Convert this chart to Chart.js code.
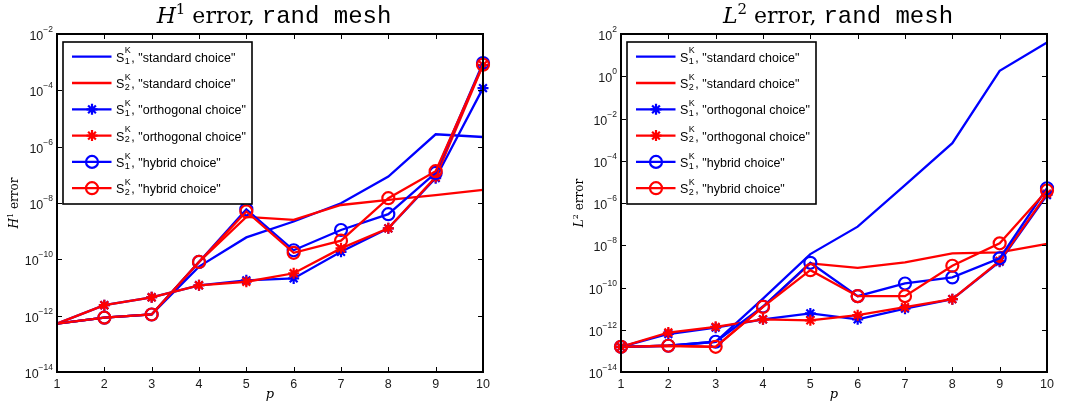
<!DOCTYPE html>
<html><head><meta charset="utf-8">
<script src="https://cdn.jsdelivr.net/npm/chart.js@4/dist/chart.umd.min.js"></script>
<style>
html,body{margin:0;padding:0;background:#fff;width:1065px;height:410px;overflow:hidden}
canvas{position:absolute;top:0}
#c1{left:0}
#c2{left:532px}
</style></head><body>
<canvas id="c1" width="532" height="410"></canvas>
<canvas id="c2" width="533" height="410"></canvas>
<script>
// ---------- data ----------
const pValues = [1, 2, 3, 4, 5, 6, 7, 8, 9, 10];
const xTickLabels = ['1', '2', '3', '4', '5', '6', '7', '8', '9', '10'];
const h1TickExponents = [-14, -12, -10, -8, -6, -4, -2];
const l2TickExponents = [-14, -12, -10, -8, -6, -4, -2, 0, 2];
const legendIndices = ['1', '2', '1', '2', '1', '2'];
const legendLabels = ['"standard choice"', '"standard choice"', '"orthogonal choice"', '"orthogonal choice"', '"hybrid choice"', '"hybrid choice"'];

// H1 error
const h1S1Standard   = [5.2e-13, 8.5e-13, 1.1e-12, 5.5e-11, 6.0e-10, 2.2e-9, 9.8e-9, 8.7e-8, 2.75e-6, 2.2e-6];
const h1S2Standard   = [5.2e-13, 8.5e-13, 1.1e-12, 8.1e-11, 3.2e-9, 2.5e-9, 8.5e-9, 1.3e-8, 1.9e-8, 2.9e-8];
const h1S1Orthogonal = [5.2e-13, 2.35e-12, 4.5e-12, 1.2e-11, 1.8e-11, 2.1e-11, 1.85e-10, 1.26e-9, 7.6e-8, 1.2e-4];
const h1S2Orthogonal = [5.2e-13, 2.35e-12, 4.5e-12, 1.2e-11, 1.6e-11, 3.2e-11, 2.45e-10, 1.26e-9, 8.3e-8, 7.9e-4];
const h1S1Hybrid     = [5.2e-13, 8.5e-13, 1.1e-12, 8.1e-11, 6.0e-9, 2.1e-10, 1.1e-9, 4.0e-9, 1.17e-7, 9.3e-4];
const h1S2Hybrid     = [5.2e-13, 8.5e-13, 1.1e-12, 8.1e-11, 5.0e-9, 1.7e-10, 4.6e-10, 1.48e-8, 1.35e-7, 8.1e-4];

// L2 error
const l2S1Standard   = [1.55e-13, 1.75e-13, 2.7e-13, 3.0e-11, 3.8e-9, 7.6e-8, 7.1e-6, 6.8e-4, 1.8, 40];
const l2S2Standard   = [1.55e-13, 1.75e-13, 1.55e-13, 1.2e-11, 1.38e-9, 8.5e-10, 1.55e-9, 4.1e-9, 4.6e-9, 1.15e-8];
const l2S1Orthogonal = [1.55e-13, 6.3e-13, 1.26e-12, 3.1e-12, 5.9e-12, 3.1e-12, 1.0e-11, 2.8e-11, 1.66e-9, 2.4e-6];
const l2S2Orthogonal = [1.55e-13, 7.4e-13, 1.38e-12, 3.1e-12, 2.8e-12, 4.9e-12, 1.17e-11, 2.8e-11, 1.8e-9, 2.8e-6];
const l2S1Hybrid     = [1.55e-13, 1.75e-13, 2.7e-13, 1.26e-11, 1.48e-9, 3.9e-11, 1.55e-10, 3.0e-10, 2.4e-9, 5.0e-6];
const l2S2Hybrid     = [1.55e-13, 1.75e-13, 1.55e-13, 1.2e-11, 6.6e-10, 3.9e-11, 3.9e-11, 1.07e-9, 1.23e-8, 3.9e-6];

// ---------- styles ----------
const BLUE = '#0000ff', RED = '#ff0000';
const seriesStyles = [
  {color: BLUE, marker: null},
  {color: RED, marker: null},
  {color: BLUE, marker: 'star'},
  {color: RED, marker: 'star'},
  {color: BLUE, marker: 'circle'},
  {color: RED, marker: 'circle'}
];
const SERIF = '"DejaVu Serif", "Liberation Serif", serif';
const SANS = '"Liberation Sans", Arial, sans-serif';
const MONO = '"Liberation Mono", "DejaVu Sans Mono", monospace';
const LINE_W = 2.3;

function buildDatasets(seriesList, hideFirstMarker) {
  return seriesList.map((arr, i) => {
    const st = seriesStyles[i];
    const r = st.marker === 'circle' ? 6 : (st.marker === 'star' ? 5.5 : 0);
    return {
      data: pValues.map((p, k) => ({x: p, y: arr[k]})),
      borderColor: st.color,
      backgroundColor: 'rgba(0,0,0,0)',
      borderWidth: LINE_W,
      tension: 0,
      fill: false,
      pointStyle: st.marker || 'circle',
      pointRadius: ctx => (hideFirstMarker && ctx.dataIndex === 0) ? 0 : r,
      pointBorderWidth: 2.2,
      pointBorderColor: st.color,
      pointBackgroundColor: 'rgba(0,0,0,0)',
      order: 6 - i,
      clip: false
    };
  });
}

function drawRich(ctx, parts, x, y, align) {
  let total = 0;
  parts.forEach(p => { ctx.font = p.font; p.w = ctx.measureText(p.text).width; total += p.w; });
  let cx = align === 'center' ? x - total / 2 : (align === 'right' ? x - total : x);
  ctx.textAlign = 'left';
  parts.forEach(p => { ctx.font = p.font; ctx.fillText(p.text, cx, y + (p.dy || 0)); cx += p.w; });
}

function drawMarker(ctx, kind, x, y, color) {
  ctx.save();
  ctx.strokeStyle = color; ctx.lineWidth = 2.2;
  ctx.beginPath();
  if (kind === 'circle') {
    ctx.arc(x, y, 6, 0, Math.PI * 2);
  } else if (kind === 'star') {
    const r = 5.5, d = r * Math.SQRT1_2;
    ctx.moveTo(x - r, y); ctx.lineTo(x + r, y);
    ctx.moveTo(x, y - r); ctx.lineTo(x, y + r);
    ctx.moveTo(x - d, y - d); ctx.lineTo(x + d, y + d);
    ctx.moveTo(x - d, y + d); ctx.lineTo(x + d, y - d);
  }
  ctx.stroke();
  ctx.restore();
}

function decorPlugin(cfg) {
  return {
    id: 'decor',
    afterDraw(chart) {
      const ctx = chart.ctx, a = chart.chartArea;
      const xs = chart.scales.x, ys = chart.scales.y;
      ctx.save();
      // frame
      ctx.strokeStyle = '#000'; ctx.lineWidth = 2;
      ctx.strokeRect(a.left, a.top, a.right - a.left, a.bottom - a.top);
      // ticks
      ctx.lineWidth = 1;
      ctx.beginPath();
      pValues.forEach(p => {
        const x = Math.round(xs.getPixelForValue(p)) + 0.5;
        ctx.moveTo(x, a.bottom); ctx.lineTo(x, a.bottom - 5);
        ctx.moveTo(x, a.top); ctx.lineTo(x, a.top + 5);
      });
      cfg.tickExps.forEach(e => {
        const y = Math.round(ys.getPixelForValue(Math.pow(10, e))) + 0.5;
        ctx.moveTo(a.left, y); ctx.lineTo(a.left + 5, y);
        ctx.moveTo(a.right, y); ctx.lineTo(a.right - 5, y);
      });
      ctx.stroke();
      // x tick labels
      ctx.fillStyle = '#1a1a1a';
      ctx.font = '12.5px ' + SANS;
      ctx.textAlign = 'center'; ctx.textBaseline = 'alphabetic';
      pValues.forEach((p, i) => ctx.fillText(xTickLabels[i], xs.getPixelForValue(p), a.bottom + 16));
      // y tick labels
      cfg.tickExps.forEach(e => {
        const y = ys.getPixelForValue(Math.pow(10, e));
        const exp = e < 0 ? '\u2212' + Math.abs(e) : String(e);
        drawRich(ctx, [
          {text: '10', font: '12.5px ' + SANS, dy: 6},
          {text: exp, font: '8.5px ' + SANS, dy: -2}
        ], a.left - 4, y, 'right');
      });
      // x axis title
      ctx.fillStyle = '#000';
      ctx.font = 'italic 13px ' + SERIF;
      ctx.textAlign = 'center';
      ctx.fillText('p', (a.left + a.right) / 2, 398);
      // y axis title
      ctx.save();
      ctx.translate(cfg.yTitleX, (a.top + a.bottom) / 2);
      ctx.rotate(-Math.PI / 2);
      drawRich(ctx, [
        {text: cfg.yLetter, font: 'italic 12px ' + SERIF, dy: 0},
        {text: cfg.yPow, font: '8px ' + SERIF, dy: -5},
        {text: ' error', font: '12px ' + SERIF, dy: 0}
      ], 0, 4, 'center');
      ctx.restore();
      // title
      drawRich(ctx, [
        {text: cfg.yLetter, font: 'italic 22px ' + SERIF, dy: 0},
        {text: cfg.yPow, font: '15px ' + SERIF, dy: -9},
        {text: ' error, ', font: '22px ' + SERIF, dy: 0},
        {text: 'rand mesh', font: '24px ' + MONO, dy: 0}
      ], (a.left + a.right) / 2 + 4, 23, 'center');
      // legend
      const L = a.left + 6, T = 42, W = 189, H = 162;
      ctx.fillStyle = '#fff';
      ctx.fillRect(L, T, W, H);
      ctx.strokeStyle = '#000'; ctx.lineWidth = 1.6;
      ctx.strokeRect(L, T, W, H);
      for (let i = 0; i < 6; i++) {
        const st = seriesStyles[i];
        const ry = T + 14.7 + i * 26.3;
        ctx.strokeStyle = st.color; ctx.lineWidth = LINE_W;
        ctx.beginPath(); ctx.moveTo(L + 9, ry); ctx.lineTo(L + 48.5, ry); ctx.stroke();
        if (st.marker) drawMarker(ctx, st.marker, L + 29, ry, st.color);
        ctx.fillStyle = '#000';
        ctx.textAlign = 'left';
        ctx.font = '12.5px ' + SANS;
        const sx = L + 53;
        ctx.fillText('S', sx, ry + 5);
        const sw = ctx.measureText('S').width;
        ctx.font = '9px ' + SANS;
        const kw = ctx.measureText('K').width, iw = ctx.measureText(legendIndices[i]).width;
        ctx.fillText('K', sx + sw + 0.5, ry - 3.4);
        ctx.fillText(legendIndices[i], sx + sw + 0.5, ry + 6.8);
        ctx.font = '12.5px ' + SANS;
        ctx.fillText(', ' + legendLabels[i], sx + sw + 1 + Math.max(kw, iw), ry + 5);
      }
      ctx.restore();
    }
  };
}

function makeChart(id, seriesList, yMax, tickExps, padLeft, padRight, yTitleX, yLetter, yPow, hideFirst) {
  return new Chart(document.getElementById(id), {
    type: 'line',
    data: {datasets: buildDatasets(seriesList, hideFirst)},
    options: {
      responsive: false,
      animation: false,
      devicePixelRatio: 1,
      layout: {padding: {left: padLeft, right: padRight, top: 34, bottom: 38}},
      plugins: {legend: {display: false}, tooltip: {enabled: false}, title: {display: false}},
      scales: {
        x: {type: 'linear', min: 1, max: 10, display: false},
        y: {type: 'logarithmic', min: 1e-14, max: yMax, display: false}
      }
    },
    plugins: [decorPlugin({tickExps, yTitleX, yLetter, yPow})]
  });
}

makeChart('c1', [h1S1Standard, h1S2Standard, h1S1Orthogonal, h1S2Orthogonal, h1S1Hybrid, h1S2Hybrid],
  1e-2, h1TickExponents, 57, 49, 14, 'H', '1', true);
makeChart('c2', [l2S1Standard, l2S2Standard, l2S1Orthogonal, l2S2Orthogonal, l2S1Hybrid, l2S2Hybrid],
  1e2, l2TickExponents, 89, 18, 47, 'L', '2', false);
</script>
</body></html>
